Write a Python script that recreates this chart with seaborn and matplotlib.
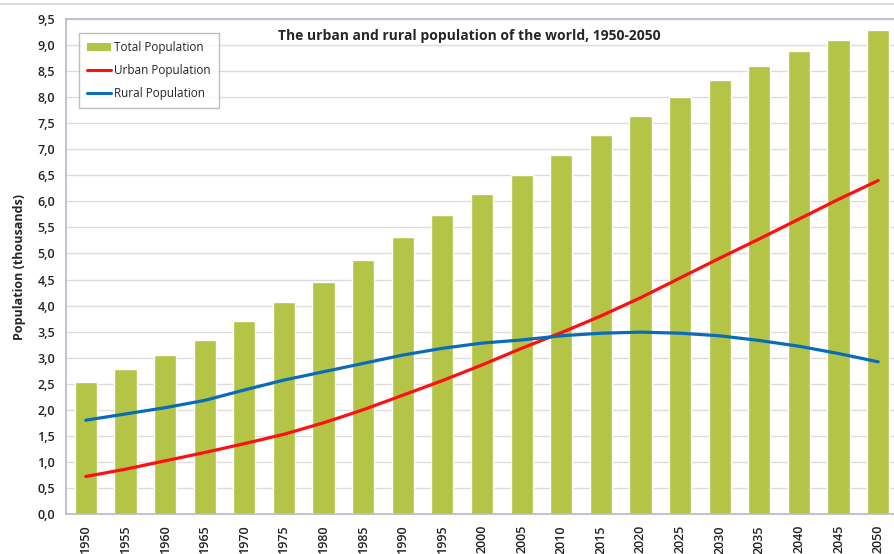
import numpy as np
import pandas as pd
import seaborn as sns
import matplotlib.pyplot as plt
from matplotlib.lines import Line2D
from matplotlib.patches import Patch
from matplotlib.ticker import FuncFormatter, MultipleLocator

years = [str(y) for y in range(1950, 2051, 5)]
total = [2.53, 2.78, 3.05, 3.34, 3.70, 4.07, 4.45, 4.88, 5.32, 5.74, 6.14,
         6.51, 6.89, 7.27, 7.64, 8.00, 8.33, 8.60, 8.89, 9.10, 9.29]
urban = [0.72, 0.86, 1.02, 1.18, 1.35, 1.53, 1.75, 2.00, 2.28, 2.56, 2.86,
         3.18, 3.48, 3.80, 4.15, 4.53, 4.91, 5.28, 5.66, 6.04, 6.40]
rural = [1.80, 1.92, 2.04, 2.18, 2.38, 2.57, 2.73, 2.89, 3.05, 3.18, 3.28,
         3.34, 3.42, 3.47, 3.49, 3.47, 3.42, 3.33, 3.22, 3.08, 2.92]

df = pd.DataFrame({"year": years, "total": total, "urban": urban, "rural": rural})
df["pos"] = np.arange(len(df))

sns.set_style("white")
plt.rcParams['font.family'] = ['Open Sans', 'DejaVu Sans']

fig = plt.figure(figsize=(8.95, 5.54), dpi=100)
ax = fig.add_axes([66 / 895, 1 - 514 / 554, (898 - 66) / 895, (514 - 19) / 554])

green = "#b3c446"
sns.barplot(data=df, x="year", y="total", color=green, width=0.56,
            saturation=1, ax=ax, zorder=2)
sns.lineplot(data=df, x="pos", y="urban", color="#ff1010", lw=2.3, ax=ax, zorder=3)
sns.lineplot(data=df, x="pos", y="rural", color="#0a6cb8", lw=2.3, ax=ax, zorder=3)

ax.set_xlim(-0.5, 20.5)
ax.set_ylim(0, 9.5)
ax.yaxis.set_major_locator(MultipleLocator(0.5))
ax.yaxis.set_major_formatter(FuncFormatter(lambda v, p: f"{v:.1f}".replace(".", ",")))
ax.grid(axis="y", color="#dcdcdc", lw=1, zorder=0)
ax.set_axisbelow(True)

ax.set_xticks(np.arange(len(years)))
ax.set_xticklabels(years, rotation=90, fontsize=9, fontweight="semibold", color="#222222")
ax.tick_params(axis="x", length=0, pad=8)
ax.set_xticks(np.arange(-0.5, len(years)), minor=True)
ax.tick_params(axis="x", which="minor", length=4, color="#b8b8c8")
ax.tick_params(axis="y", labelsize=9, length=0, pad=8, labelcolor="#222222")
for lab in ax.get_yticklabels():
    lab.set_fontweight("semibold")

ax.set_xlabel("")
ax.set_ylabel("Population (thousands)", fontsize=9, fontweight="bold", labelpad=8)

for s in ["left", "bottom", "top"]:
    ax.spines[s].set_color("#b8b8c8")
    ax.spines[s].set_linewidth(1.2)
ax.spines["right"].set_visible(False)

ax.text(0.485, 0.965, "The urban and rural population of the world, 1950-2050",
        transform=ax.transAxes, ha="center", va="center", fontsize=10, fontweight="bold")

handles = [Patch(facecolor=green, edgecolor="none"),
           Line2D([], [], color="#ff1010", lw=2.2),
           Line2D([], [], color="#0a6cb8", lw=2.2)]
leg = ax.legend(handles, ["Total Population", "Urban Population", "Rural Population"],
                loc="upper left", bbox_to_anchor=(0.0156, 0.972), borderaxespad=0,
                fontsize=8.5, frameon=True, fancybox=False, handlelength=2.0,
                handleheight=0.6, borderpad=0.7, labelspacing=0.85, handletextpad=0.3)
leg.get_frame().set_edgecolor("#b0b0b0")
leg.get_frame().set_linewidth(1)

fig.add_artist(Line2D([0, 1], [1 - 4 / 554, 1 - 4 / 554], color="#d8d8d8", lw=1.2))

fig.savefig("out.png", dpi=100)
